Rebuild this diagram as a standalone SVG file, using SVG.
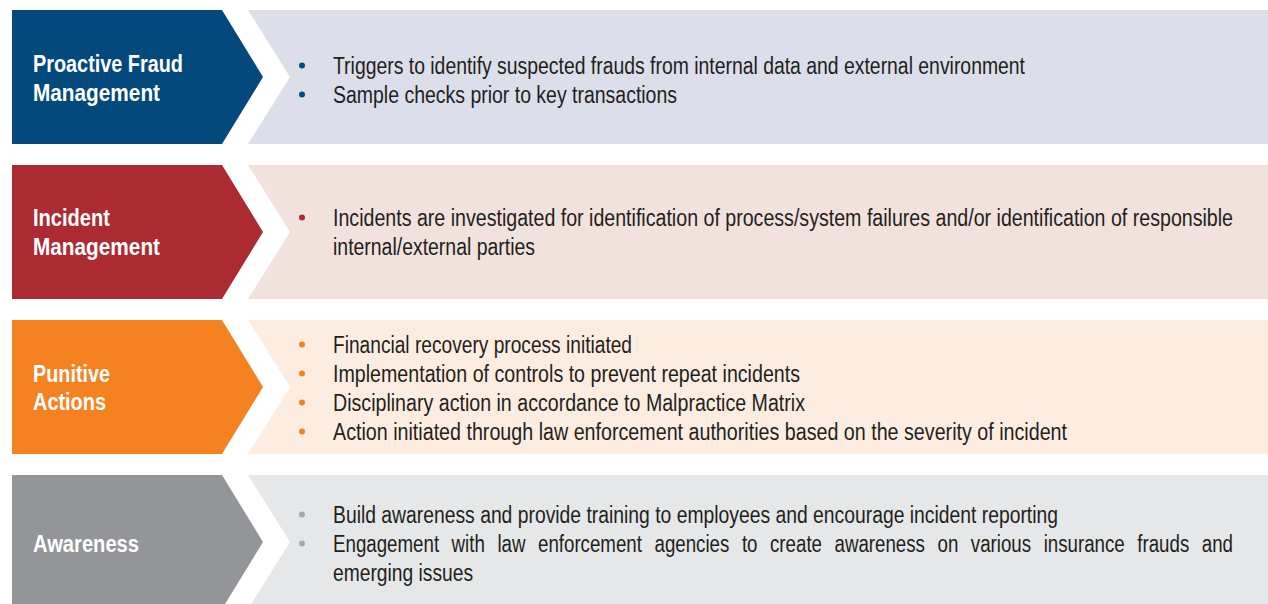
<svg xmlns="http://www.w3.org/2000/svg" width="1268" height="604" viewBox="0 0 1268 604">
<style>
.title{font-family:"Liberation Sans",Arial,sans-serif;font-weight:bold;font-size:23px;fill:#ffffff}
.body{font-family:"Liberation Sans",Arial,sans-serif;font-size:23px;fill:#231f20}
</style>
<rect width="1268" height="604" fill="#ffffff"/>
<g id="row1">
<polygon points="12,10 222,10 263,77 222,144 12,144" fill="#03497c"/>
<polygon points="248,10 1268,10 1268,144 248,144 290,77" fill="#dcdeea"/>
<text class="title" x="33" y="72" textLength="150" lengthAdjust="spacingAndGlyphs">Proactive Fraud</text>
<text class="title" x="33" y="101" textLength="127" lengthAdjust="spacingAndGlyphs">Management</text>
<g fill="#03497c"><circle cx="302" cy="65.5" r="3"/><circle cx="302" cy="94.5" r="3"/></g>
<text class="body" x="333" y="74" textLength="692" lengthAdjust="spacingAndGlyphs">Triggers to identify suspected frauds from internal data and external environment</text>
<text class="body" x="333" y="103" textLength="344" lengthAdjust="spacingAndGlyphs">Sample checks prior to key transactions</text>
</g>
<g id="row2">
<polygon points="12,165 222,165 263,232 222,299 12,299" fill="#ac2a32"/>
<polygon points="248,165 1268,165 1268,299 248,299 290,232" fill="#f1e2dd"/>
<text class="title" x="33" y="226" textLength="77" lengthAdjust="spacingAndGlyphs">Incident</text>
<text class="title" x="33" y="255" textLength="127" lengthAdjust="spacingAndGlyphs">Management</text>
<circle cx="302" cy="217.5" r="3" fill="#ac2a32"/>
<text class="body" x="333" y="226" textLength="900" lengthAdjust="spacingAndGlyphs">Incidents are investigated for identification of process/system failures and/or identification of responsible</text>
<text class="body" x="333" y="255" textLength="202" lengthAdjust="spacingAndGlyphs">internal/external parties</text>
</g>
<g id="row3">
<polygon points="12,320 222,320 263,387 222,454 12,454" fill="#f58220"/>
<polygon points="248,320 1268,320 1268,454 248,454 290,387" fill="#fdede1"/>
<text class="title" x="33" y="382" textLength="77" lengthAdjust="spacingAndGlyphs">Punitive</text>
<text class="title" x="33" y="410" textLength="73" lengthAdjust="spacingAndGlyphs">Actions</text>
<g fill="#f58220"><circle cx="302" cy="344.5" r="3"/><circle cx="302" cy="373.5" r="3"/><circle cx="302" cy="402.5" r="3"/><circle cx="302" cy="431.5" r="3"/></g>
<text class="body" x="333" y="353" textLength="299" lengthAdjust="spacingAndGlyphs">Financial recovery process initiated</text>
<text class="body" x="333" y="382" textLength="467" lengthAdjust="spacingAndGlyphs">Implementation of controls to prevent repeat incidents</text>
<text class="body" x="333" y="411" textLength="472" lengthAdjust="spacingAndGlyphs">Disciplinary action in accordance to Malpractice Matrix</text>
<text class="body" x="333" y="440" textLength="734" lengthAdjust="spacingAndGlyphs">Action initiated through law enforcement authorities based on the severity of incident</text>
</g>
<g id="row4">
<polygon points="12,475 222,475 263,542 222,609 12,609" fill="#939598"/>
<polygon points="248,475 1268,475 1268,609 248,609 290,542" fill="#e6e7e8"/>
<text class="title" x="33" y="552" textLength="106" lengthAdjust="spacingAndGlyphs">Awareness</text>
<g fill="#a7a9ac"><circle cx="302" cy="514.5" r="3"/><circle cx="302" cy="543.5" r="3"/></g>
<text class="body" x="333" y="523" textLength="725" lengthAdjust="spacingAndGlyphs">Build awareness and provide training to employees and encourage incident reporting</text>
<text class="body" x="333" y="552" textLength="900" lengthAdjust="spacingAndGlyphs" word-spacing="9">Engagement with law enforcement agencies to create awareness on various insurance frauds and</text>
<text class="body" x="333" y="581" textLength="140" lengthAdjust="spacingAndGlyphs">emerging issues</text>
</g>
<g id="connectors"/>
</svg>
